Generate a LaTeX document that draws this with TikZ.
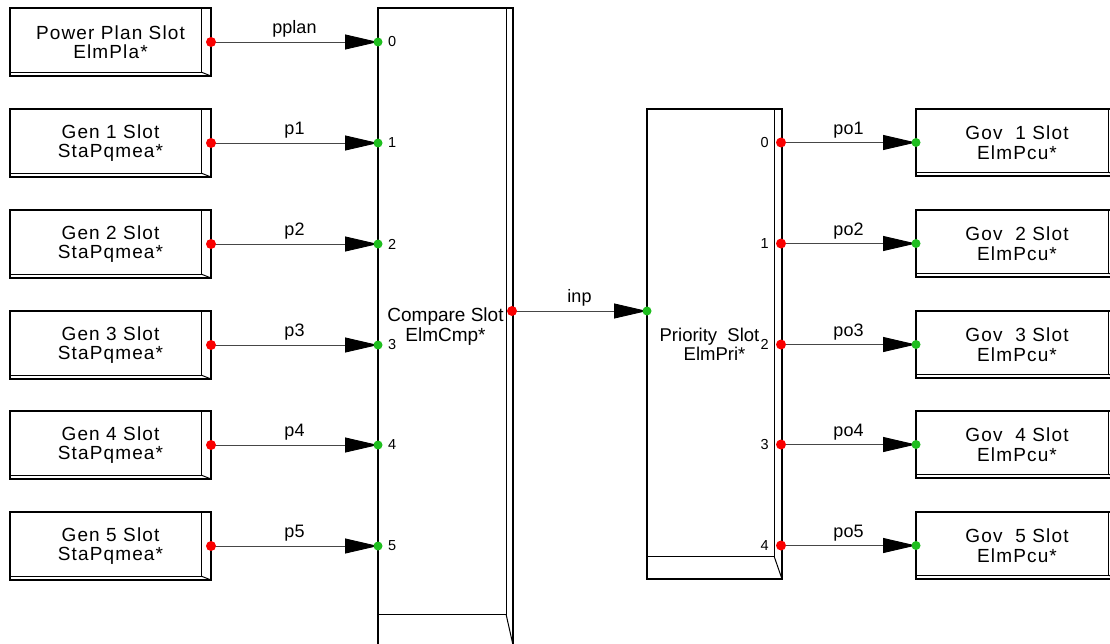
\documentclass[tikz,border=0pt]{standalone}
\usepackage{fontspec}
\setmainfont{Liberation Sans}
\newfontfamily\slotfont[LetterSpace=6]{Liberation Sans}
\usetikzlibrary{arrows.meta}
\definecolor{portred}{RGB}{250,0,0}
\definecolor{portgreen}{RGB}{30,190,30}
\definecolor{wire}{RGB}{70,70,70}

\begin{document}
\begin{tikzpicture}[x=1pt, y=-1pt,
    block/.style 2 args={rectangle, draw, line width=1.1pt, inner sep=0pt, outer sep=0pt, align=center, font=\slotfont\fontsize{19}{19.5}\selectfont,
        path picture={\draw[line width=1pt] ([xshift=-#1pt]path picture bounding box.north east) -- ([xshift=-#1pt, yshift=#2pt]path picture bounding box.south east) -- ([yshift=#2pt]path picture bounding box.south west);
            \draw[line width=1pt] ([xshift=-#1pt, yshift=#2pt]path picture bounding box.south east) -- (path picture bounding box.south east);}},
    slot/.style={block={10}{4}, minimum width=201pt, minimum height=68pt},
    arrow/.style={-{Triangle[length=33pt, width=15pt, black]}, wire, line width=0.9pt},
    wirelabel/.style={font=\fontsize{18}{18}\selectfont, text=black, inner sep=0pt, yshift=4pt},
    num/.style={font=\fontsize{14.5}{14.5}\selectfont, inner sep=0pt},
    outdot/.style={fill=portred},
    indot/.style={fill=portgreen}
]
    \useasboundingbox (0,0) rectangle (1110,643);

    % sources
    \node[slot] (pp) at (110.5,42) {Power Plan Slot\\ElmPla*};
    \node[slot] (g1) at (110.5,143) {Gen 1 Slot\\StaPqmea*};
    \node[slot] (g2) at (110.5,244) {Gen 2 Slot\\StaPqmea*};
    \node[slot] (g3) at (110.5,345) {Gen 3 Slot\\StaPqmea*};
    \node[slot] (g4) at (110.5,445) {Gen 4 Slot\\StaPqmea*};
    \node[slot] (g5) at (110.5,546) {Gen 5 Slot\\StaPqmea*};

    % compare and priority
    \node[block={7}{31}, minimum width=135pt, minimum height=637pt, font=\fontsize{19}{19.5}\selectfont] (cmp) at (445.5,326.5) {Compare Slot\\ElmCmp*};
    \node[block={8}{23}, minimum width=135pt, minimum height=470pt, font=\fontsize{18.5}{19}\selectfont] (pri) at (714.5,344) {Priority\ \ Slot\hspace*{10pt}\\ElmPri*};

    % governors
    \node[slot, minimum width=202pt, minimum height=67pt] (v1) at (1017,142.5) {Gov\ \ 1 Slot\\ElmPcu*};
    \node[slot, minimum width=202pt, minimum height=67pt] (v2) at (1017,243.5) {Gov\ \ 2 Slot\\ElmPcu*};
    \node[slot, minimum width=202pt, minimum height=67pt] (v3) at (1017,344.5) {Gov\ \ 3 Slot\\ElmPcu*};
    \node[slot, minimum width=202pt, minimum height=67pt] (v4) at (1017,444.5) {Gov\ \ 4 Slot\\ElmPcu*};
    \node[slot, minimum width=202pt, minimum height=67pt] (v5) at (1017,545.5) {Gov\ \ 5 Slot\\ElmPcu*};

    % ports
    \coordinate[label={[num, label distance=10pt]right:0}] (c0) at (cmp.west |- pp.east);
    \coordinate[label={[num, label distance=10pt]right:1}] (c1) at (cmp.west |- g1.east);
    \coordinate[label={[num, label distance=10pt]right:2}] (c2) at (cmp.west |- g2.east);
    \coordinate[label={[num, label distance=10pt]right:3}] (c3) at (cmp.west |- g3.east);
    \coordinate[label={[num, label distance=10pt]right:4}] (c4) at (cmp.west |- g4.east);
    \coordinate[label={[num, label distance=10pt]right:5}] (c5) at (cmp.west |- g5.east);
    \coordinate (cout) at ([xshift=-1pt]cmp.east |- 0,311);
    \coordinate (pin) at (pri.west |- cout);
    \coordinate[label={[num, label distance=12pt]left:0}] (p0) at ([xshift=-1pt]pri.east |- v1.west);
    \coordinate[label={[num, label distance=12pt]left:1}] (p1) at ([xshift=-1pt]pri.east |- v2.west);
    \coordinate[label={[num, label distance=12pt]left:2}] (p2) at ([xshift=-1pt]pri.east |- v3.west);
    \coordinate[label={[num, label distance=12pt]left:3}] (p3) at ([xshift=-1pt]pri.east |- v4.west);
    \coordinate[label={[num, label distance=12pt]left:4}] (p4) at ([xshift=-1pt]pri.east |- v5.west);

    \draw[arrow] (pp.east) -- node[wirelabel, above]{pplan} (c0);
    \draw[arrow] (g1.east) -- node[wirelabel, above]{p1} (c1);
    \draw[arrow] (g2.east) -- node[wirelabel, above]{p2} (c2);
    \draw[arrow] (g3.east) -- node[wirelabel, above]{p3} (c3);
    \draw[arrow] (g4.east) -- node[wirelabel, above]{p4} (c4);
    \draw[arrow] (g5.east) -- node[wirelabel, above]{p5} (c5);
    \draw[arrow] (cout) -- node[wirelabel, above]{inp} (pin);
    \draw[arrow] (p0) -- node[wirelabel, above]{po1} (v1.west);
    \draw[arrow] (p1) -- node[wirelabel, above]{po2} (v2.west);
    \draw[arrow] (p2) -- node[wirelabel, above]{po3} (v3.west);
    \draw[arrow] (p3) -- node[wirelabel, above]{po4} (v4.west);
    \draw[arrow] (p4) -- node[wirelabel, above]{po5} (v5.west);

    % dots
    \fill[outdot] (pp.east) circle (5pt);
    \fill[outdot] (g1.east) circle (5pt);
    \fill[outdot] (g2.east) circle (5pt);
    \fill[outdot] (g3.east) circle (5pt);
    \fill[outdot] (g4.east) circle (5pt);
    \fill[outdot] (g5.east) circle (5pt);
    \fill[outdot] (cout) circle (5pt);
    \fill[outdot] (p0) circle (5pt);
    \fill[outdot] (p1) circle (5pt);
    \fill[outdot] (p2) circle (5pt);
    \fill[outdot] (p3) circle (5pt);
    \fill[outdot] (p4) circle (5pt);
    \fill[indot] (c0) circle (4.5pt);
    \fill[indot] (c1) circle (4.5pt);
    \fill[indot] (c2) circle (4.5pt);
    \fill[indot] (c3) circle (4.5pt);
    \fill[indot] (c4) circle (4.5pt);
    \fill[indot] (c5) circle (4.5pt);
    \fill[indot] (pin) circle (4.5pt);
    \fill[indot] (v1.west) circle (4.5pt);
    \fill[indot] (v2.west) circle (4.5pt);
    \fill[indot] (v3.west) circle (4.5pt);
    \fill[indot] (v4.west) circle (4.5pt);
    \fill[indot] (v5.west) circle (4.5pt);
\end{tikzpicture}
\end{document}
